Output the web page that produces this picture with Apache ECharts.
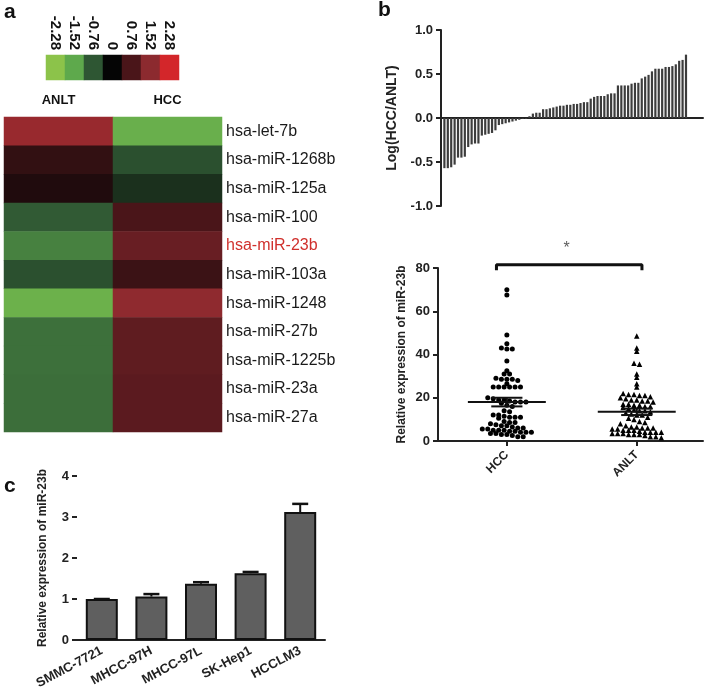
<!DOCTYPE html>
<html lang="en">
<head>
    <meta charset="UTF-8">
    <title>miR-23b expression</title>
    <style>
        html, body { margin: 0; padding: 0; background: #fff; }
    </style>
</head>
<body>
<script src="https://cdn.jsdelivr.net/npm/echarts@6/dist/echarts.min.js"></script>
<div id="main" style="width: 709px;height:696px;"></div>

<script>
    // panel a - colour key and heatmap
    var keyLabels = ['-2.28', '-1.52', '-0.76', '0', '0.76', '1.52', '2.28'];
    var keyValues = [-2.28, -1.52, -0.76, 0, 0.76, 1.52, 2.28];
    var keyColors = ['#8cc34a', '#5ea94c', '#2e5633', '#050505', '#4a1519', '#8c2a2f', '#d3262a'];
    var heatCols = ['ANLT', 'HCC'];
    var heatRows = ['hsa-let-7b', 'hsa-miR-1268b', 'hsa-miR-125a', 'hsa-miR-100', 'hsa-miR-23b',
        'hsa-miR-103a', 'hsa-miR-1248', 'hsa-miR-27b', 'hsa-miR-1225b', 'hsa-miR-23a', 'hsa-miR-27a'];
    var anltHeat = [1.65, 0.5, 0.3, -0.8, -1.15, -0.7, -1.75, -1.0, -1.0, -0.98, -0.98];
    var hccHeat = [-1.7, -0.7, -0.4, 0.76, 1.1, 0.6, 1.55, 1.0, 1.0, 0.95, 0.95];

    // panel b - log ratio per sample (sorted)
    var logRatio = [-0.57, -0.57, -0.56, -0.53, -0.45, -0.45, -0.44, -0.33, -0.30, -0.29, -0.29, -0.20, -0.19,
        -0.18, -0.17, -0.14, -0.08, -0.07, -0.06, -0.05, -0.04, -0.03, -0.02, -0.01, -0.01,
        0.02, 0.05, 0.06, 0.06, 0.10, 0.10, 0.11, 0.12, 0.13, 0.14, 0.14, 0.15, 0.15, 0.16, 0.16, 0.17,
        0.18, 0.18, 0.22, 0.24, 0.25, 0.25, 0.25, 0.27, 0.28, 0.28, 0.37, 0.37, 0.37, 0.37, 0.39, 0.40,
        0.40, 0.45, 0.47, 0.49, 0.53, 0.56, 0.56, 0.56, 0.58, 0.58, 0.59, 0.61, 0.65, 0.66, 0.72];

    // panel b - relative expression per sample
    var groups = ['HCC', 'ANLT'];
    var hccExpr = [70, 67.5, 49, 45, 43, 42.5, 42.5, 37, 32.5, 31, 31, 29, 28.5, 28.5, 28.5, 28, 26.5, 25, 25,
        25, 25, 25, 25, 20, 19.5, 19, 19, 18.5, 18, 18, 18, 17.5, 16.5, 16, 14, 13.5, 12, 12, 11.5, 11, 11,
        11, 10.5, 9, 8.5, 8.5, 8, 7.5, 7, 7, 6.5, 6, 6, 5.5, 5.5, 5, 5, 5, 4.5, 4.5, 4, 4, 4, 3.5, 3.5, 3,
        3, 2.5, 2, 2];
    var anltExpr = [48.5, 43, 41.5, 36, 35.5, 31, 29.5, 26.5, 25, 22, 21.5, 21.5, 21, 21, 20.5, 20, 19.5, 19,
        19, 18.5, 18.5, 18, 17, 17, 16.5, 16.5, 16, 16, 15.5, 15, 14.5, 14, 14, 13.5, 13, 12.5, 12, 12, 11,
        10.5, 10, 9, 8.5, 8, 7, 6.5, 6.5, 6, 6, 6, 5.5, 5.5, 5, 5, 5, 4.5, 4, 4, 4, 4, 3.5, 3.5, 3.5, 3, 3,
        3, 2.5, 2, 2, 1.5];
    var groupMean = [18, 13.5];
    var groupSem = [2, 1.5];

    // panel c - cell lines
    var cellLines = ['SMMC-7721', 'MHCC-97H', 'MHCC-97L', 'SK-Hep1', 'HCCLM3'];
    var cellExpr = [1.0, 1.06, 1.37, 1.63, 3.12];
    var cellErr = [0, 0.06, 0.04, 0.03, 0.2];

    var myChart = echarts.init(document.getElementById('main'));
    var font = 'Arial, "Liberation Sans", sans-serif';

    var keyData = [];
    for (var i = 0; i < keyValues.length; i++) {
        keyData.push([i, 0, keyValues[i]]);
    }
    var heatData = [];
    for (var r = 0; r < heatRows.length; r++) {
        heatData.push([0, r, anltHeat[r]]);
        heatData.push([1, r, hccHeat[r]]);
    }
    var ratioData = [];
    for (var k = 0; k < logRatio.length; k++) {
        ratioData.push([k + 1, logRatio[k]]);
    }

    // simple dot-plot layout: points in the same y band sit side by side
    function swarm(values, center) {
        var bins = {};
        var out = [];
        values.forEach(function (v) {
            var b = Math.round(v / 2.4);
            (bins[b] = bins[b] || []).push(v);
        });
        Object.keys(bins).forEach(function (b) {
            var list = bins[b];
            var n = list.length;
            list.forEach(function (v, j) {
                out.push([center + (j - (n - 1) / 2) * 0.042, v]);
            });
        });
        return out;
    }

    function meanLines(g) {
        var c = g + 1;
        return [
            [[c - 0.3, groupMean[g]], [c + 0.3, groupMean[g]]],
            [[c - 0.12, groupMean[g] + groupSem[g]], [c + 0.12, groupMean[g] + groupSem[g]]],
            [[c - 0.12, groupMean[g] - groupSem[g]], [c + 0.12, groupMean[g] - groupSem[g]]],
            [[c, groupMean[g] - groupSem[g]], [c, groupMean[g] + groupSem[g]]]
        ];
    }
    var lineSeries = [];
    [0, 1].forEach(function (g) {
        meanLines(g).forEach(function (seg) {
            lineSeries.push({
                type: 'line', xAxisIndex: 3, yAxisIndex: 3, data: seg, symbol: 'none',
                lineStyle: {color: '#111', width: 2}, z: 5, silent: true
            });
        });
    });

    var axisText = {color: '#222', fontFamily: font, fontWeight: 'bold', fontSize: 13};
    var blackLine = {lineStyle: {color: '#222', width: 2}};

    var option = {
        backgroundColor: '#fff',
        animation: false,
        textStyle: {fontFamily: font},
        graphic: [
            {type: 'text', left: 4, top: 2, style: {text: 'a', font: 'bold 21px ' + font, fill: '#111'}},
            {type: 'text', left: 378, top: 0, style: {text: 'b', font: 'bold 21px ' + font, fill: '#111'}},
            {type: 'text', left: 4, top: 476, style: {text: 'c', font: 'bold 21px ' + font, fill: '#111'}}
        ],
        visualMap: {
            type: 'continuous', show: false, min: -2.28, max: 2.28, seriesIndex: [0, 1],
            inRange: {color: keyColors}
        },
        grid: [
            {left: 46, top: 55, width: 133, height: 25},
            {left: 4, top: 117, width: 218, height: 315},
            {left: 441, top: 30, width: 262, height: 176},
            {left: 438, top: 268, width: 265, height: 173},
            {left: 77, top: 476, width: 248, height: 164}
        ],
        xAxis: [
            {
                gridIndex: 0, type: 'category', position: 'top', data: keyLabels,
                axisLine: {show: false}, axisTick: {show: false},
                axisLabel: {interval: 0, rotate: 90, margin: 5, color: '#111', fontWeight: 'bold', fontSize: 15, fontFamily: font}
            },
            {
                gridIndex: 1, type: 'category', position: 'top', data: heatCols,
                axisLine: {show: false}, axisTick: {show: false},
                axisLabel: {margin: 10, color: '#111', fontWeight: 'bold', fontSize: 13, fontFamily: font}
            },
            {
                gridIndex: 2, type: 'value', min: 0, max: 77,
                axisLine: {onZero: true, lineStyle: {color: '#222', width: 2}},
                axisTick: {show: false}, axisLabel: {show: false}, splitLine: {show: false}
            },
            {
                gridIndex: 3, type: 'value', min: 0.47, max: 2.51,
                axisLine: blackLine, splitLine: {show: false},
                axisTick: {customValues: [1, 2], length: 5, lineStyle: {color: '#222', width: 2}},
                axisLabel: {
                    customValues: [1, 2], rotate: 45, margin: 12, color: '#222', fontFamily: font,
                    fontWeight: 'bold', fontSize: 12,
                    formatter: function (v) { return groups[Math.round(v) - 1]; }
                }
            },
            {
                gridIndex: 4, type: 'category', data: cellLines,
                axisLine: blackLine,
                axisTick: {alignWithLabel: true, length: 5, lineStyle: {color: '#222', width: 2}},
                axisLabel: {rotate: 28, margin: 10, color: '#222', fontFamily: font, fontWeight: 'bold', fontSize: 13, interval: 0}
            }
        ],
        yAxis: [
            {
                gridIndex: 0, type: 'category', data: [''],
                axisLine: {show: false}, axisTick: {show: false}, axisLabel: {show: false}
            },
            {
                gridIndex: 1, type: 'category', data: heatRows, inverse: true, position: 'right',
                axisLine: {show: false}, axisTick: {show: false},
                axisLabel: {
                    margin: 4, fontSize: 16, fontFamily: font,
                    color: function (v) { return v === 'hsa-miR-23b' ? '#d0302c' : '#1a1a1a'; }
                }
            },
            {
                gridIndex: 2, type: 'value', min: -1, max: 1, interval: 0.5,
                name: 'Log(HCC/ANLT)', nameLocation: 'middle', nameGap: 42,
                nameTextStyle: {color: '#222', fontWeight: 'bold', fontSize: 14, fontFamily: font},
                axisLine: blackLine,
                axisTick: {show: true, length: 5, lineStyle: {color: '#222', width: 2}},
                axisLabel: {
                    color: '#222', fontWeight: 'bold', fontSize: 13, fontFamily: font, margin: 8,
                    formatter: function (v) { return v.toFixed(1); }
                },
                splitLine: {show: false}
            },
            {
                gridIndex: 3, type: 'value', min: 0, max: 80, interval: 20,
                name: 'Relative expression of miR-23b', nameLocation: 'middle', nameGap: 30,
                nameTextStyle: {color: '#222', fontWeight: 'bold', fontSize: 12, fontFamily: font},
                axisLine: blackLine,
                axisTick: {show: true, length: 5, lineStyle: {color: '#222', width: 2}},
                axisLabel: axisText,
                splitLine: {show: false}
            },
            {
                gridIndex: 4, type: 'value', min: 0, max: 4, interval: 1,
                name: 'Relative expression of miR-23b', nameLocation: 'middle', nameGap: 28,
                nameTextStyle: {color: '#222', fontWeight: 'bold', fontSize: 12, fontFamily: font},
                axisLine: blackLine,
                axisTick: {show: true, length: 5, lineStyle: {color: '#222', width: 2}},
                axisLabel: axisText,
                splitLine: {show: false}
            }
        ],
        series: [
            {type: 'heatmap', xAxisIndex: 0, yAxisIndex: 0, data: keyData},
            {type: 'heatmap', xAxisIndex: 1, yAxisIndex: 1, data: heatData},
            {
                type: 'bar', xAxisIndex: 2, yAxisIndex: 2, data: ratioData, barWidth: 2.2,
                itemStyle: {color: '#3c3c3c'}
            },
            {
                type: 'scatter', xAxisIndex: 3, yAxisIndex: 3, data: swarm(hccExpr, 1),
                symbol: 'circle', symbolSize: 5, itemStyle: {color: '#000', opacity: 1}
            },
            {
                type: 'scatter', xAxisIndex: 3, yAxisIndex: 3, data: swarm(anltExpr, 2),
                symbol: 'triangle', symbolSize: 5.5, itemStyle: {color: '#000', opacity: 1}
            },
            {
                type: 'line', xAxisIndex: 3, yAxisIndex: 3, symbol: 'none', clip: false,
                data: [[0.92, 79], [0.92, 81.5], [2.04, 81.5], [2.04, 79]],
                lineStyle: {color: '#111', width: 3}
            },
            {
                type: 'scatter', xAxisIndex: 3, yAxisIndex: 3, data: [[1.46, 89]], clip: false,
                symbolSize: 0,
                label: {show: true, position: 'inside', formatter: '*', fontSize: 16, color: '#333', fontFamily: font}
            },
            {
                type: 'bar', xAxisIndex: 4, yAxisIndex: 4, data: cellExpr, barWidth: 32,
                itemStyle: {color: '#5f5f5f', borderColor: '#111', borderWidth: 2}
            },
            {
                type: 'custom', xAxisIndex: 4, yAxisIndex: 4, z: 1,
                data: cellExpr.map(function (v, i) { return [i, v, v + cellErr[i]]; }),
                renderItem: function (params, api) {
                    var base = api.coord([api.value(0), api.value(1)]);
                    var top = api.coord([api.value(0), api.value(2)]);
                    var h = 8;
                    return {
                        type: 'group',
                        children: [
                            {type: 'line', shape: {x1: base[0], y1: base[1], x2: top[0], y2: top[1]},
                                style: {stroke: '#111', lineWidth: 2}},
                            {type: 'line', shape: {x1: top[0] - h, y1: top[1], x2: top[0] + h, y2: top[1]},
                                style: {stroke: '#111', lineWidth: 2.5}}
                        ]
                    };
                }
            }
        ].concat(lineSeries)
    };

    myChart.setOption(option);
</script>

</body>
</html>
